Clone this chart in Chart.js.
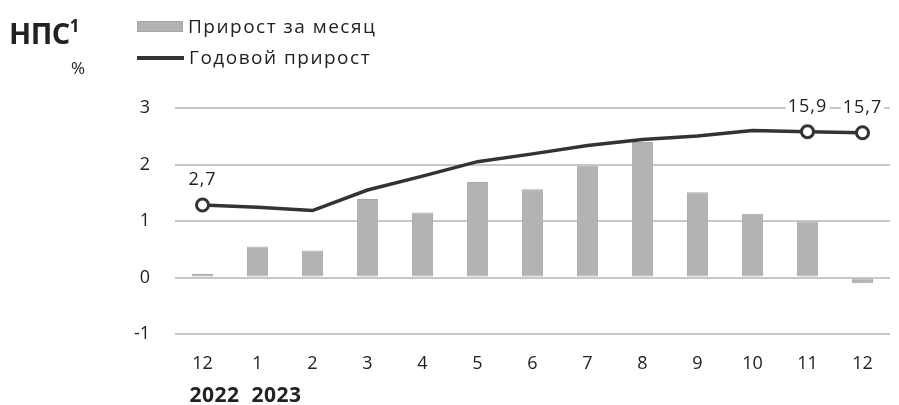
<!DOCTYPE html>
<html>
<head>
<meta charset="utf-8">
<script src="https://cdn.jsdelivr.net/npm/chart.js@4"></script>
<style>
  body { margin: 0; background: #fff; font-family: "Open Sans", sans-serif; color: #222; }
  #wrap { position: relative; width: 899px; height: 405px; }
  #myChart { position: absolute; left: 0; top: 0; }
  .title { position: absolute; left: 9px; top: 13px; font-size: 29px; font-weight: bold; letter-spacing: -0.5px; }
  .unit { position: absolute; left: 71px; top: 56px; font-size: 17px; }
  .leg { position: absolute; left: 137px; font-size: 19px; line-height: 22px; white-space: nowrap; letter-spacing: 1.5px; }
  .leg span.sw { display: inline-block; vertical-align: middle; margin-right: 5px; position: relative; top: -1px; }
</style>
</head>
<body>
<div id="wrap">
  <canvas id="myChart" width="899" height="405"></canvas>
  <div class="title">НПС<sup style="font-size:17px;vertical-align:12px">1</sup></div>
  <div class="unit">%</div>
  <div class="leg" style="top:15px"><span class="sw" style="width:46px;height:11px;background:#b3b3b3;border:1px solid #a6a6a6;box-sizing:border-box"></span>Прирост за месяц</div>
  <div class="leg" style="top:46px"><span class="sw" style="width:47px;height:4px;background:#333"></span>Годовой прирост</div>
</div>
<script>
// months on the x axis, years under the first two
const months = ["12","1","2","3","4","5","6","7","8","9","10","11","12"];
const years = ["2022","2023"];

// monthly growth, %
const monthly = [0.06, 0.55, 0.48, 1.39, 1.15, 1.69, 1.56, 1.98, 2.40, 1.51, 1.13, 0.99, -0.10];
// annual growth, % (own hidden scale)
const annual = [2.7, 2.3, 1.7, 5.4, 7.9, 10.5, 11.9, 13.4, 14.5, 15.1, 16.1, 15.9, 15.7];
// points that get a marker and a value label
const labelIdx = [0, 11, 12];

const font = "'Open Sans', sans-serif";

const extras = {
  id: "extras",
  afterDatasetsDraw(chart) {
    const ctx = chart.ctx;
    const x = chart.scales.x;
    ctx.save();
    // value labels above the marked points
    ctx.font = "18px " + font;
    ctx.letterSpacing = "1px";
    ctx.textAlign = "center";
    ctx.textBaseline = "middle";
    const pts = chart.getDatasetMeta(1).data;
    labelIdx.forEach(i => {
      const p = pts[i];
      const txt = String(annual[i]).replace(".", ",");
      const w = ctx.measureText(txt).width;
      ctx.fillStyle = "#fff";
      ctx.fillRect(p.x - w / 2 - 2, p.y - 36, w + 4, 22);
      ctx.fillStyle = "#222";
      ctx.fillText(txt, p.x, p.y - 25);
    });
    // years under the month ticks
    ctx.font = "bold 21px " + font;
    ctx.letterSpacing = "0.5px";
    ctx.textAlign = "left";
    let left = x.getPixelForValue(0) - 13;
    years.forEach(y => {
      ctx.fillText(y, left, 396);
      left += ctx.measureText(y).width + 12;
    });
    ctx.restore();
  }
};

const chart = new Chart("myChart", {
  data: {
    labels: months,
    datasets: [{
      type: "bar",
      label: "Прирост за месяц",
      data: monthly,
      backgroundColor: "#b3b3b3",
      borderColor: "#a8a8a8",
      borderWidth: 1,
      borderSkipped: false,
      categoryPercentage: 1,
      barPercentage: 0.38,
      yAxisID: "y",
      order: 1
    },{
      type: "line",
      label: "Годовой прирост",
      data: annual,
      borderColor: "#333",
      borderWidth: 3.5,
      tension: 0,
      pointRadius: annual.map((v, i) => labelIdx.includes(i) ? 6 : 0),
      pointBorderWidth: 3,
      pointBackgroundColor: "#fff",
      pointBorderColor: "#333",
      yAxisID: "y1",
      order: 0
    }]
  },
  options: {
    responsive: false,
    animation: false,
    layout: { padding: { top: 108, right: 0, left: 0, bottom: 0 } },
    plugins: { legend: { display: false }, tooltip: { enabled: false } },
    scales: {
      x: {
        offset: true,
        grid: { display: false, drawTicks: false },
        border: { display: false },
        ticks: { color: "#222", font: { family: font, size: 18 }, padding: 19, maxRotation: 0 },
        afterFit: s => { s.height = 71; }
      },
      y: {
        min: -1, max: 3,
        grid: { color: "#c8c8c8", lineWidth: 2, drawTicks: false },
        border: { display: false },
        ticks: { stepSize: 1, color: "#222", font: { family: font, size: 18 }, padding: 25 },
        afterFit: s => { s.width = 175; }
      },
      y1: {
        display: false,
        min: -20.5, max: 20.15
      }
    }
  },
  plugins: [extras]
});
</script>
</body>
</html>
